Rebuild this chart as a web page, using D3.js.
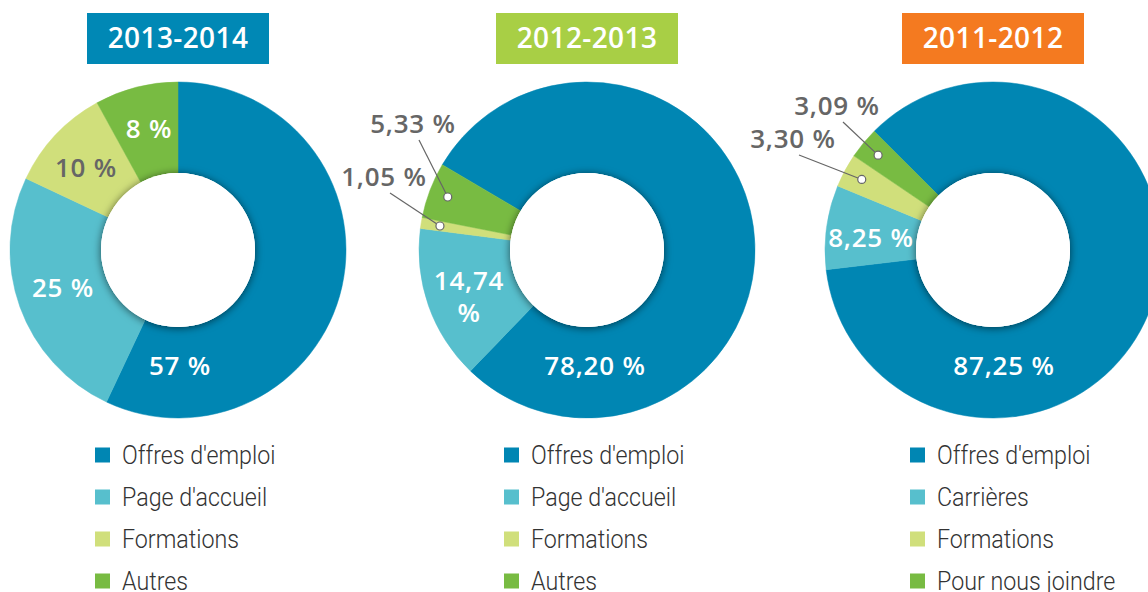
<!DOCTYPE html>
<html><head><meta charset="utf-8">
<script src="https://cdn.jsdelivr.net/npm/d3@7"></script>
<style>
html,body{margin:0;padding:0;background:#fff;}
svg{display:block;}
</style>
</head><body>
<svg id="chart" width="1148" height="592"></svg>
<script>
// ---------- data ----------
const years = ["2013-2014", "2012-2013", "2011-2012"];
const categories2014 = ["Offres d'emploi", "Page d'accueil", "Formations", "Autres"];
const categories2013 = ["Offres d'emploi", "Page d'accueil", "Formations", "Autres"];
const categories2012 = ["Offres d'emploi", "Carrières", "Formations", "Pour nous joindre"];
const values2014 = [57, 25, 10, 8];
const values2013 = [78.20, 14.74, 1.05, 5.33];
const values2012 = [87.25, 8.25, 3.30, 3.09];
const labels2014 = ["57 %", "25 %", "10 %", "8 %"];
const labels2013 = ["78,20 %", "14,74\n%", "1,05 %", "5,33 %"];
const labels2012 = ["87,25 %", "8,25 %", "3,30 %", "3,09 %"];

// ---------- styles / layout ----------
const sliceColors = ["#0086b3", "#57bfcd", "#d0df7b", "#78bb42"];
const titleColors = ["#0088b5", "#a8cf45", "#f47a20"];
const centersX = [178, 587, 993];
const cy = 250, rOuter = 168, rInner = 77;
const startDeg = [0, -59.5, -45];
// label placement relative to chart centre (x = text centre, y = baseline); callout = leader line
const labelLayout = [
  [{dx:2, dy:125, fill:"#fff"}, {dx:-115, dy:47, fill:"#fff"}, {dx:-92, dy:-73, fill:"#666"}, {dx:-29, dy:-112, fill:"#fff"}],
  [{dx:8, dy:125, fill:"#fff"}, {dx:-118, dy:40, fill:"#fff"}, {dx:-203, dy:-64, fill:"#666", callout:true}, {dx:-174, dy:-117, fill:"#666", callout:true}],
  [{dx:11, dy:125, fill:"#fff"}, {dx:-122, dy:-3, fill:"#fff"}, {dx:-200, dy:-102, fill:"#666", callout:true}, {dx:-156, dy:-135, fill:"#666", callout:true}]
];

const charts = [
  {year: years[0], cats: categories2014, vals: values2014, labels: labels2014},
  {year: years[1], cats: categories2013, vals: values2013, labels: labels2013},
  {year: years[2], cats: categories2012, vals: values2012, labels: labels2012}
];

const svg = d3.select("#chart");
const defs = svg.append("defs");
const f = defs.append("filter").attr("id","holeShadow").attr("x","-30%").attr("y","-30%").attr("width","160%").attr("height","160%");
f.append("feDropShadow").attr("dx",0).attr("dy",1).attr("stdDeviation",4.5).attr("flood-color","#000").attr("flood-opacity",0.6);

const arc = d3.arc().innerRadius(rInner).outerRadius(rOuter);
const color = d3.scaleOrdinal().domain(d3.range(4)).range(sliceColors);

charts.forEach((c, ci) => {
  const cx = centersX[ci];
  const s0 = startDeg[ci] * Math.PI / 180;
  const pie = d3.pie().sort(null).value(d => d.v).startAngle(s0).endAngle(s0 + 2*Math.PI);
  const arcs = pie(c.vals.map((v,i)=>({v, i})));

  // title
  const tg = svg.append("g").attr("transform", `translate(${cx},0)`);
  tg.append("rect").attr("x",-91).attr("y",13).attr("width",182).attr("height",51).attr("fill",titleColors[ci]);
  tg.append("text").attr("x",0).attr("y",48).attr("text-anchor","middle")
    .attr("font-family","'Open Sans', sans-serif").attr("font-weight",600).attr("font-size",28)
    .attr("letter-spacing",0.4).attr("fill","#fff").text(c.year);

  const g = svg.append("g").attr("transform", `translate(${cx},${cy})`);
  g.selectAll("path.slice").data(arcs).enter().append("path").attr("class","slice")
    .attr("d", arc).attr("fill", d => color(d.data.i))
    .attr("stroke", d => color(d.data.i)).attr("stroke-width", 0.5);
  g.append("circle").attr("r", rInner).attr("fill","#fff").attr("filter","url(#holeShadow)");
  g.append("circle").attr("r", rInner).attr("fill","#fff");

  // labels
  arcs.forEach((a, i) => {
    const L = labelLayout[ci][i];
    if (L.callout) {
      const mid = (a.startAngle + a.endAngle)/2;
      const rr = 149;
      const px = Math.sin(mid)*rr, py = -Math.cos(mid)*rr;
      g.append("line").attr("x1", L.dx+6).attr("y1", L.dy+7).attr("x2", px).attr("y2", py)
        .attr("stroke","#666").attr("stroke-width",1.2);
      g.append("circle").attr("cx",px).attr("cy",py).attr("r",4)
        .attr("fill","#fff").attr("stroke","#666").attr("stroke-width",1.2);
    }
    const lines = c.labels[i].split("\n");
    const t = g.append("text").attr("text-anchor","middle")
      .attr("font-family","'Open Sans', sans-serif").attr("font-weight",600).attr("font-size",26)
      .attr("letter-spacing",0.8).attr("fill", L.fill);
    lines.forEach((ln, k) => {
      t.append("tspan").attr("x", L.dx).attr("y", L.dy + k*32).text(ln);
    });
  });

  // legend
  const lg = svg.append("g").attr("transform", `translate(${cx-83},0)`);
  c.cats.forEach((cat, i) => {
    const y = 455 + i*42;
    lg.append("rect").attr("x",0).attr("y",y-7.5).attr("width",15).attr("height",15).attr("fill", color(i));
    lg.append("text").attr("transform", `translate(27,${y+9}) scale(0.93,1)`)
      .attr("font-family","Roboto, sans-serif").attr("font-weight",300).attr("font-size",25)
      .attr("fill","#333").text(cat);
  });
});
</script>
</body></html>
